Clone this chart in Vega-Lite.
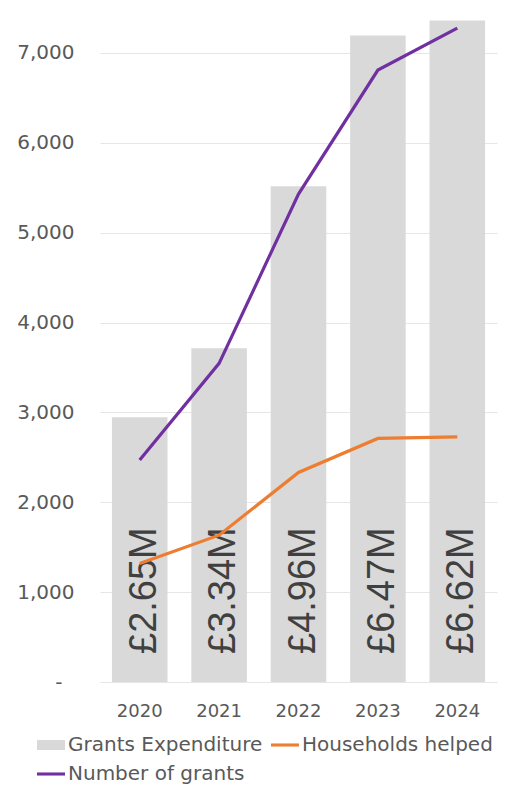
{
  "$schema": "https://vega.github.io/schema/vega-lite/v6.json",
  "width": 397,
  "height": 665,
  "autosize": {"type": "none"},
  "padding": {"left": 100, "top": 17, "right": 15, "bottom": 103},
  "background": "white",
  "config": {"view": {"stroke": null}, "font": "DejaVu Sans"},
  "datasets": {
    "exp": [
      {"year": "2020", "expenditure": 2.65, "label": "£2.65M"},
      {"year": "2021", "expenditure": 3.34, "label": "£3.34M"},
      {"year": "2022", "expenditure": 4.96, "label": "£4.96M"},
      {"year": "2023", "expenditure": 6.47, "label": "£6.47M"},
      {"year": "2024", "expenditure": 6.62, "label": "£6.62M"}
    ],
    "lines": [
      {"year": "2020", "series": "Households helped", "value": 1318},
      {"year": "2021", "series": "Households helped", "value": 1634},
      {"year": "2022", "series": "Households helped", "value": 2332},
      {"year": "2023", "series": "Households helped", "value": 2710},
      {"year": "2024", "series": "Households helped", "value": 2728},
      {"year": "2020", "series": "Number of grants", "value": 2470},
      {"year": "2021", "series": "Number of grants", "value": 3546},
      {"year": "2022", "series": "Number of grants", "value": 5430},
      {"year": "2023", "series": "Number of grants", "value": 6810},
      {"year": "2024", "series": "Number of grants", "value": 7276}
    ]
  },
  "layer": [
    {
      "data": {"name": "exp"},
      "encoding": {
        "x": {
          "field": "year", "type": "ordinal",
          "scale": {"paddingInner": 0.3, "paddingOuter": 0.15},
          "axis": {"title": null, "domain": false, "ticks": false, "labelAngle": 0, "labelPadding": 20, "labelFontSize": 18, "labelColor": "#595959", "labelFont": "DejaVu Sans", "grid": false}
        }
      },
      "layer": [
        {
          "mark": {"type": "bar"},
          "encoding": {
            "y": {"field": "expenditure", "type": "quantitative", "scale": {"domain": [0, 6.655], "nice": false}, "axis": null},
            "color": {"datum": "Grants Expenditure", "type": "nominal"}
          }
        },
        {
          "mark": {"type": "text", "angle": 270, "align": "left", "baseline": "middle", "dx": 28, "dy": 5, "font": "Liberation Sans", "fontSize": 38, "color": "#404040"},
          "encoding": {
            "y": {"datum": 0, "type": "quantitative"},
            "text": {"field": "label"}
          }
        }
      ]
    },
    {
      "data": {"name": "lines"},
      "mark": {"type": "line", "strokeWidth": 3.2},
      "encoding": {
        "x": {"field": "year", "type": "ordinal"},
        "y": {
          "field": "value", "type": "quantitative",
          "scale": {"domain": [0, 7400], "nice": false},
          "axis": {
            "orient": "left", "title": null, "domain": false, "ticks": false,
            "values": [0, 1000, 2000, 3000, 4000, 5000, 6000, 7000],
            "labelExpr": "datum.value === 0 ? '-' : format(datum.value, ',')",
            "labelPadding": {"condition": {"test": "datum.value === 0", "value": 38}, "value": 26},
            "labelFontSize": 20, "labelColor": "#595959", "labelFont": "DejaVu Sans",
            "grid": true, "gridColor": "#e6e6e6", "gridWidth": 1
          }
        },
        "color": {
          "field": "series", "type": "nominal",
          "scale": {
            "domain": ["Grants Expenditure", "Households helped", "Number of grants"],
            "range": ["#d9d9d9", "#ed7d31", "#7030a0"]
          },
          "legend": {
            "title": null, "orient": "none", "legendX": -63, "legendY": 714,
            "direction": "horizontal", "columns": 2,
            "symbolSize": 784, "labelFontSize": 20, "labelColor": "#595959", "labelFont": "DejaVu Sans",
            "labelLimit": 400,
            "labelOffset": 3, "columnPadding": 8, "rowPadding": 5,
            "encode": {
              "symbols": {
                "update": {
                  "shape": {"signal": "datum.value === 'Grants Expenditure' ? 'M-1,-0.36H1V0.36H-1Z' : 'M-1,-0.11H1V0.11H-1Z'"},
                  "fill": {"scale": "color", "field": "value"},
                  "stroke": {"value": "transparent"},
                  "strokeWidth": {"value": 0},
                  "opacity": {"value": 1}
                }
              }
            }
          }
        }
      }
    }
  ],
  "resolve": {"scale": {"y": "independent"}}
}
